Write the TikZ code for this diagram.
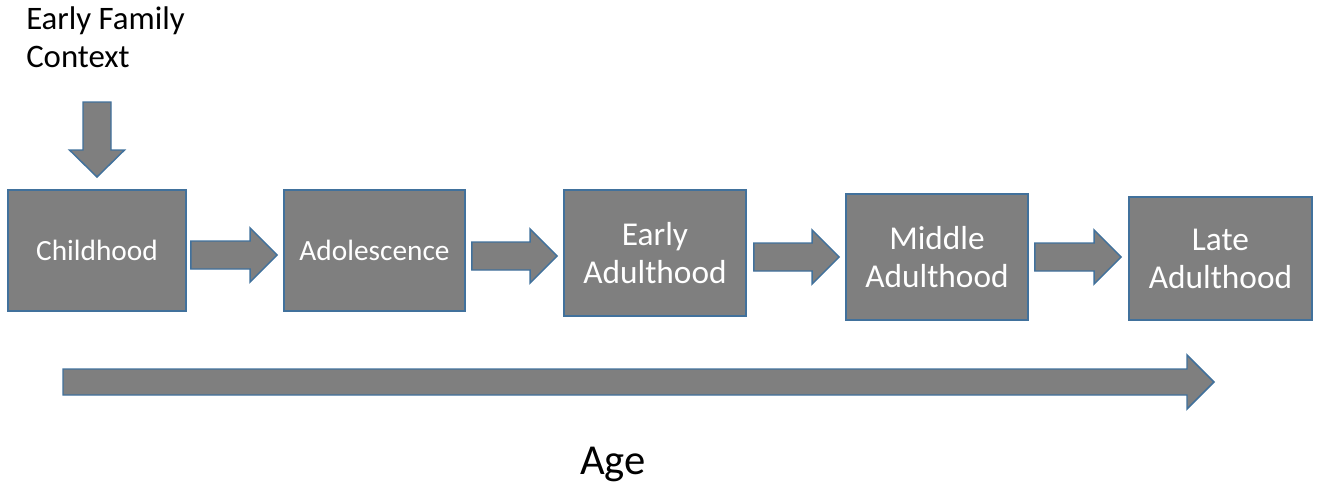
\documentclass[tikz,border=0pt]{standalone}
\usepackage{fontspec}
\setmainfont{Carlito}
\usetikzlibrary{calc}
\definecolor{boxfill}{RGB}{127,127,127}
\definecolor{boxline}{RGB}{65,113,156}
\tikzset{
  stage/.style={draw=boxline, line width=1.4pt, fill=boxfill, text=white, inner sep=0pt, align=center},
  onel/.style={font=\fontsize{22}{26}\selectfont},
  twol/.style={font=\fontsize{25}{28.5}\selectfont},
  blockarr/.style={draw=boxline, line width=1.1pt, fill=boxfill, line join=miter},
  plain/.style={text=black, inner sep=0pt}
}
% horizontal block arrow: #1 start coordinate, #2 tip coordinate, #3 shaft half, #4 head half, #5 head length (pixels)
\newcommand{\hblock}[5]{%
  \draw[blockarr] let \p1=#1, \p2=#2 in
    (\x1,\y1-#3*0.75) -- (\x2-#5*0.75,\y1-#3*0.75) -- (\x2-#5*0.75,\y1-#4*0.75) -- (\x2,\y1) --
    (\x2-#5*0.75,\y1+#4*0.75) -- (\x2-#5*0.75,\y1+#3*0.75) -- (\x1,\y1+#3*0.75) -- cycle;}
\begin{document}
\begin{tikzpicture}[x=0.75pt,y=-0.75pt]
\useasboundingbox (0,0) rectangle (1322,489);
% stages
\node[stage,onel,minimum width=178*0.75pt,minimum height=121*0.75pt] (child) at (97,250.5) {Childhood};
\node[stage,onel,minimum width=181*0.75pt,minimum height=121*0.75pt] (adol) at (374.5,250.5) {Adolescence};
\node[stage,twol,minimum width=182*0.75pt,minimum height=126*0.75pt] (early) at (655,253) {Early\\Adulthood};
\node[stage,twol,minimum width=182*0.75pt,minimum height=126*0.75pt] (middle) at (937,257) {Middle\\Adulthood};
\node[stage,twol,minimum width=183*0.75pt,minimum height=123*0.75pt] (late) at (1220.5,258.5) {Late\\Adulthood};
% labels
\node[plain,anchor=north west,align=left,font=\fontsize{24.6}{29}\selectfont] (ctx) at (26,6) {Early Family\\Context};
\node[plain,font=\fontsize{32}{38}\selectfont] (age) at (613,464) {Age};
% connector coordinates
\coordinate (d0) at (97,102);
\coordinate (d1) at (97,177);
\coordinate (a1s) at ($(child.east)+(4,4.5)$);
\coordinate (a1e) at ($(adol.west)+(-6,4.5)$);
\coordinate (a2s) at ($(adol.east)+(6,5.5)$);
\coordinate (a2e) at ($(early.west)+(-6,3)$);
\coordinate (a3s) at ($(early.east)+(7,4)$);
\coordinate (a3e) at ($(middle.west)+(-6,0)$);
\coordinate (a4s) at ($(middle.east)+(6,0)$);
\coordinate (a4e) at ($(late.west)+(-7,-1.5)$);
\coordinate (ages) at (63,382);
\coordinate (agee) at (1214,382);
% down arrow (pt offsets: positive = up)
\draw[blockarr] let \p1=(d0), \p2=(d1) in
  (\x1-14*0.75,\y1) -- (\x1+14*0.75,\y1) -- (\x1+14*0.75,\y2+27*0.75) -- (\x1+27.5*0.75,\y2+27*0.75) -- (\x1,\y2) --
  (\x1-27.5*0.75,\y2+27*0.75) -- (\x1-14*0.75,\y2+27*0.75) -- cycle;
% horizontal arrows
\hblock{(a1s)}{(a1e)}{14}{27}{27}
\hblock{(a2s)}{(a2e)}{14}{27}{27}
\hblock{(a3s)}{(a3e)}{14}{27}{27}
\hblock{(a4s)}{(a4e)}{14}{27}{27}
\hblock{(ages)}{(agee)}{13}{27}{27}
\end{tikzpicture}
\end{document}
